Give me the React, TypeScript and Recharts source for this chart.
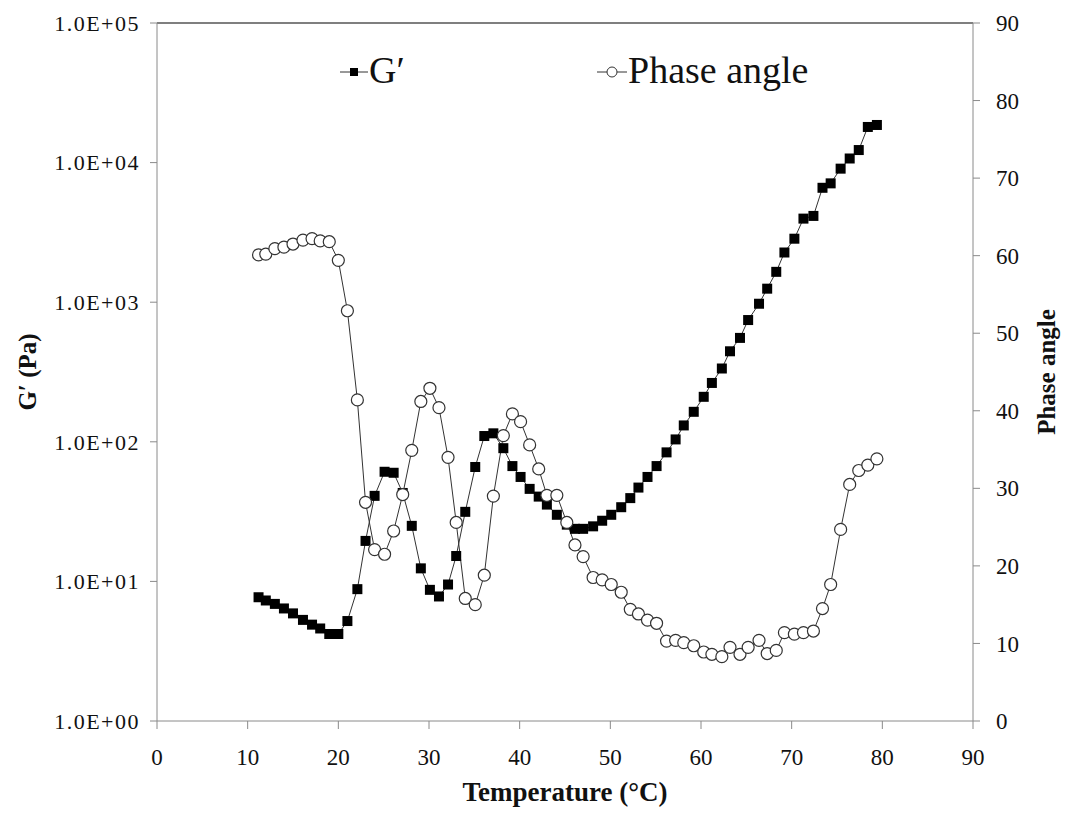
import { ComposedChart, Line, XAxis, YAxis, Legend, ReferenceLine, Label } from 'recharts'

const temperature = [
  11.2, 12.0, 13.0, 14.0, 15.0, 16.1, 17.1, 18.0, 19.0, 20.0, 21.0, 22.1, 23.0, 24.0, 25.1, 26.1, 27.1, 28.1,
  29.1, 30.1, 31.1, 32.1, 33.0, 34.0, 35.1, 36.1, 37.1, 38.2, 39.2, 40.1, 41.1, 42.1, 43.0, 44.1, 45.2, 46.1,
  47.0, 48.1, 49.1, 50.1, 51.2, 52.2, 53.1, 54.1, 55.1, 56.2, 57.2, 58.1, 59.2, 60.3, 61.2, 62.3, 63.2, 64.3,
  65.2, 66.4, 67.3, 68.3, 69.2, 70.3, 71.3, 72.4, 73.4, 74.3, 75.4, 76.4, 77.4, 78.4, 79.4,
]

const storageModulus = [
  7.7, 7.3, 6.9, 6.4, 5.9, 5.3, 4.9, 4.6, 4.2, 4.2, 5.2, 8.8, 19.5, 41, 61, 60, 43, 25,
  12.4, 8.7, 7.8, 9.5, 15.2, 31.5, 66, 110, 115, 90, 67, 56, 46, 40.5, 35.5, 30, 25.5, 23.8,
  23.8, 24.8, 27.2, 30, 34, 39.5, 47, 56, 67, 84, 104, 131, 164, 210, 264, 335, 445, 555,
  745, 975, 1250, 1650, 2270, 2850, 3970, 4150, 6600, 7100, 9050, 10700, 12300, 18000, 18600,
]

const phaseAngle = [
  60.1, 60.2, 60.9, 61.1, 61.5, 62.0, 62.2, 61.9, 61.8, 59.4, 52.9, 41.4, 28.2, 22.1, 21.5, 24.5, 29.2, 34.9,
  41.2, 42.9, 40.4, 34.0, 25.6, 15.8, 15.0, 18.8, 29.0, 36.8, 39.6, 38.6, 35.6, 32.5, 29.1, 29.1, 25.6, 22.7,
  21.2, 18.5, 18.2, 17.6, 16.6, 14.4, 13.8, 13.0, 12.6, 10.3, 10.4, 10.1, 9.7, 8.9, 8.6, 8.3, 9.5, 8.6,
  9.5, 10.4, 8.7, 9.1, 11.4, 11.2, 11.4, 11.6, 14.5, 17.6, 24.7, 30.5, 32.3, 33.0, 33.8,
]

const xTicks = [0, 10, 20, 30, 40, 50, 60, 70, 80, 90]
const leftTicks = [1, 10, 100, 1000, 10000, 100000]
const rightTicks = [0, 10, 20, 30, 40, 50, 60, 70, 80, 90]

const data = temperature.map((t, i) => ({ t, g: storageModulus[i], phase: phaseAngle[i] }))

const FONT = '"Liberation Serif", "Times New Roman", serif'
const AXIS = '#8a8a8a'

const sci = (v: number) => {
  const e = Math.round(Math.log10(v))
  return `1.0E+${String(e).padStart(2, '0')}`
}

const SquareDot = (props: any) => {
  const { cx, cy } = props
  if (cx == null || cy == null) return null
  return <rect x={cx - 5} y={cy - 5} width={10} height={10} fill="#000" />
}

const CircleDot = (props: any) => {
  const { cx, cy } = props
  if (cx == null || cy == null) return null
  return <circle cx={cx} cy={cy} r={6} fill="#fff" stroke="#333" strokeWidth={1.2} />
}

// legend box has zero height so it doesn't push the plot down
const renderLegend = () => (
  <div style={{ position: 'relative', width: 1066, height: 0, fontFamily: FONT, fontSize: 38, color: '#111' }}>
    <svg width={28} height={12} style={{ position: 'absolute', left: 340, top: 66 }}>
      <line x1={0} y1={6} x2={28} y2={6} stroke="#333" strokeWidth={1} />
      <rect x={10} y={2} width={8} height={8} fill="#000" />
    </svg>
    <span style={{ position: 'absolute', left: 369, top: 48, lineHeight: '44px' }}>G′</span>
    <svg width={30} height={14} style={{ position: 'absolute', left: 597, top: 65 }}>
      <line x1={0} y1={7} x2={30} y2={7} stroke="#333" strokeWidth={1} />
      <circle cx={15} cy={7} r={5} fill="#fff" stroke="#333" strokeWidth={1} />
    </svg>
    <span style={{ position: 'absolute', left: 628, top: 48, lineHeight: '44px', whiteSpace: 'nowrap' }}>Phase angle</span>
  </div>
)

export default function App() {
  return (
    <div style={{ position: 'absolute', left: 0, top: 0 }}>
      <ComposedChart width={1066} height={815} data={data} margin={{ top: 23, right: 0, bottom: 0, left: 0 }}>
        <XAxis
          dataKey="t"
          type="number"
          domain={[0, 90]}
          ticks={xTicks}
          interval={0}
          stroke={AXIS}
          tickSize={8}
          tickMargin={20}
          height={94}
          tick={{ fill: '#111', fontSize: 23, fontFamily: FONT }}
        >
          <Label
            content={({ viewBox }: any) => (
              <text
                x={viewBox.x + viewBox.width / 2}
                y={801}
                textAnchor="middle"
                fontFamily={FONT}
                fontWeight="bold"
                fontSize={27}
                fill="#111"
              >
                Temperature (°C)
              </text>
            )}
          />
        </XAxis>
        <YAxis
          yAxisId="left"
          scale="log"
          domain={[1, 100000]}
          ticks={leftTicks}
          interval={0}
          allowDataOverflow
          tickFormatter={sci}
          stroke={AXIS}
          width={157}
          tickSize={7}
          tickMargin={10}
          tick={{ fill: '#111', fontSize: 22, fontFamily: FONT, letterSpacing: 1.5 }}
        >
          <Label
            content={() => (
              <text
                x={30}
                y={372}
                transform="rotate(-90 30 372)"
                textAnchor="middle"
                dominantBaseline="middle"
                fontFamily={FONT}
                fontWeight="bold"
                fontSize={25}
                fill="#111"
              >
                G′ (Pa)
              </text>
            )}
          />
        </YAxis>
        <YAxis
          yAxisId="right"
          orientation="right"
          domain={[0, 90]}
          ticks={rightTicks}
          interval={0}
          stroke={AXIS}
          width={93}
          tickSize={7}
          tickMargin={16}
          tick={{ fill: '#111', fontSize: 23, fontFamily: FONT, textAnchor: 'start' }}
        >
          <Label
            content={() => (
              <text
                x={1049}
                y={372}
                transform="rotate(-90 1049 372)"
                textAnchor="middle"
                dominantBaseline="middle"
                fontFamily={FONT}
                fontWeight="bold"
                fontSize={25}
                fill="#111"
              >
                Phase angle
              </text>
            )}
          />
        </YAxis>
        <ReferenceLine yAxisId="left" y={100000} stroke="#555" strokeWidth={1.5} ifOverflow="visible" />
        <Legend
          layout="vertical"
          align="center"
          verticalAlign="top"
          wrapperStyle={{ top: 0, left: 0, width: 1066, height: 0 }}
          content={renderLegend}
        />
        <Line
          yAxisId="left"
          dataKey="g"
          name="G′"
          stroke="#333"
          strokeWidth={1}
          dot={<SquareDot />}
          activeDot={false}
          isAnimationActive={false}
        />
        <Line
          yAxisId="right"
          dataKey="phase"
          name="Phase angle"
          stroke="#333"
          strokeWidth={1}
          dot={<CircleDot />}
          activeDot={false}
          isAnimationActive={false}
        />
      </ComposedChart>
    </div>
  )
}
